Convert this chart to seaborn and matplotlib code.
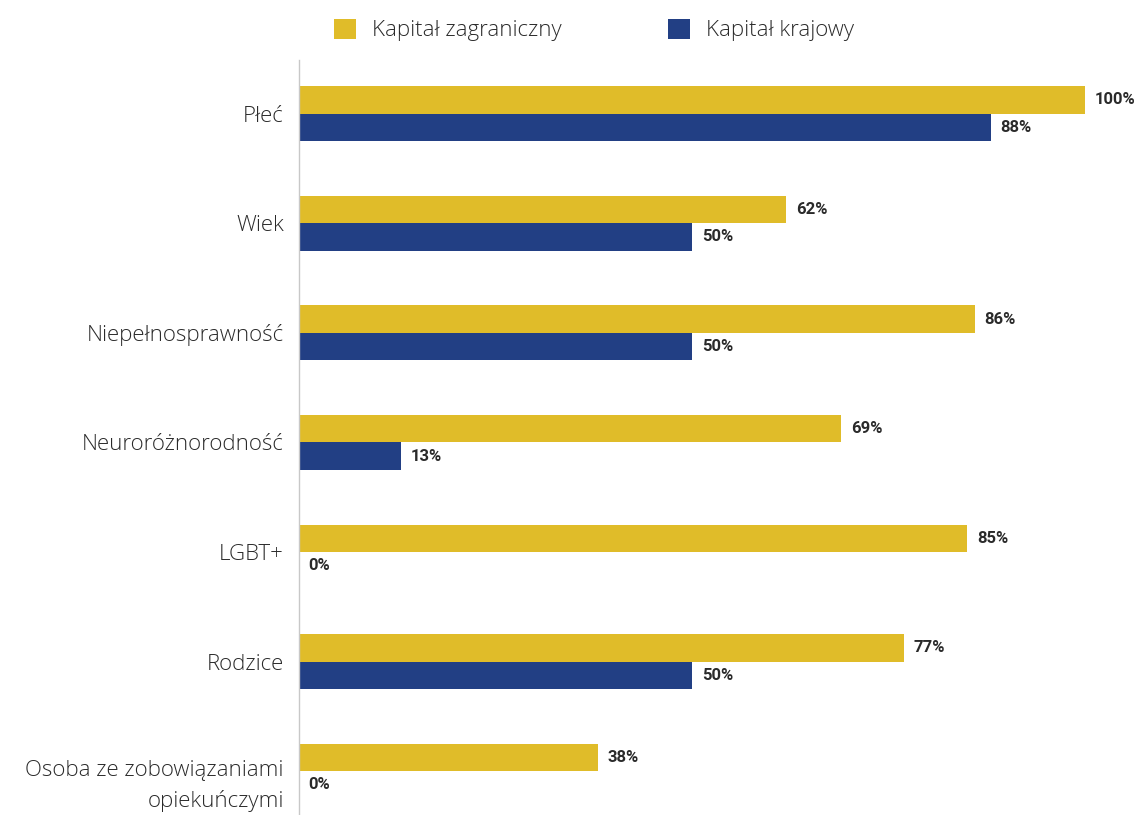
import matplotlib
matplotlib.use("Agg")
import matplotlib.pyplot as plt
from matplotlib.patches import Patch
import matplotlib.transforms as mtransforms
import seaborn as sns
import pandas as pd

categories = ["Płeć", "Wiek", "Niepełnosprawność", "Neuroróżnorodność",
              "LGBT+", "Rodzice", "Osoba ze zobowiązaniami\nopiekuńczymi"]
series_names = ["Kapitał zagraniczny", "Kapitał krajowy"]
foreign_capital = [100, 62, 86, 69, 85, 77, 38]
domestic_capital = [88, 50, 50, 13, 0, 50, 0]

colors = ["#E0BC29", "#223F84"]
text_color = "#2a2a2a"

df = pd.DataFrame({
    "category": categories * 2,
    "series": [series_names[0]] * len(categories) + [series_names[1]] * len(categories),
    "value": foreign_capital + domestic_capital,
})

sns.set_theme(style="white")
plt.rcParams["font.family"] = ["Open Sans", "DejaVu Sans"]

fig = plt.figure(figsize=(11.39, 8.15), dpi=100)
ax = fig.add_axes([299 / 1139, 0.0, 1 - 299 / 1139, (815 - 60) / 815])

sns.barplot(data=df, y="category", x="value", hue="series", order=categories,
            hue_order=series_names, palette=colors, orient="h", width=0.5,
            saturation=1, linewidth=0, ax=ax, legend=False)

ax.set_xlim(0, 100 * (1139 - 299) / 786)
ax.set_ylim(6.4, -0.49)
ax.set_xlabel("")
ax.set_ylabel("")
ax.set_xticks([])
ax.tick_params(axis="y", length=0, pad=11, labelsize=16, labelcolor=text_color)
for lbl in ax.get_yticklabels():
    lbl.set_fontweight("light")
    lbl.set_horizontalalignment("right")
    lbl.set_linespacing(1.6)
    if "\n" in lbl.get_text():
        lbl.set_transform(lbl.get_transform() +
                          mtransforms.ScaledTranslation(0, -0.07, fig.dpi_scale_trans))

for side in ["top", "right", "bottom"]:
    ax.spines[side].set_visible(False)
ax.spines["left"].set_color("#c8c8c8")
ax.spines["left"].set_linewidth(1.0)

for container in ax.containers:
    ax.bar_label(container, labels=[f"{v:.0f}%" for v in container.datavalues],
                 padding=7, fontsize=12, fontweight="bold", color=text_color,
                 family=["Roboto", "DejaVu Sans"])

handles = [Patch(facecolor=c, edgecolor="none") for c in colors]
fig.legend(handles, series_names, loc="center", bbox_to_anchor=(594 / 1139, 1 - 30 / 815),
           ncol=2, frameon=False, handlelength=1.0, handleheight=1.0,
           handletextpad=0.7, columnspacing=4.8, labelcolor=text_color,
           prop={"weight": "light", "size": 16})

fig.savefig("out.png", dpi=100)
